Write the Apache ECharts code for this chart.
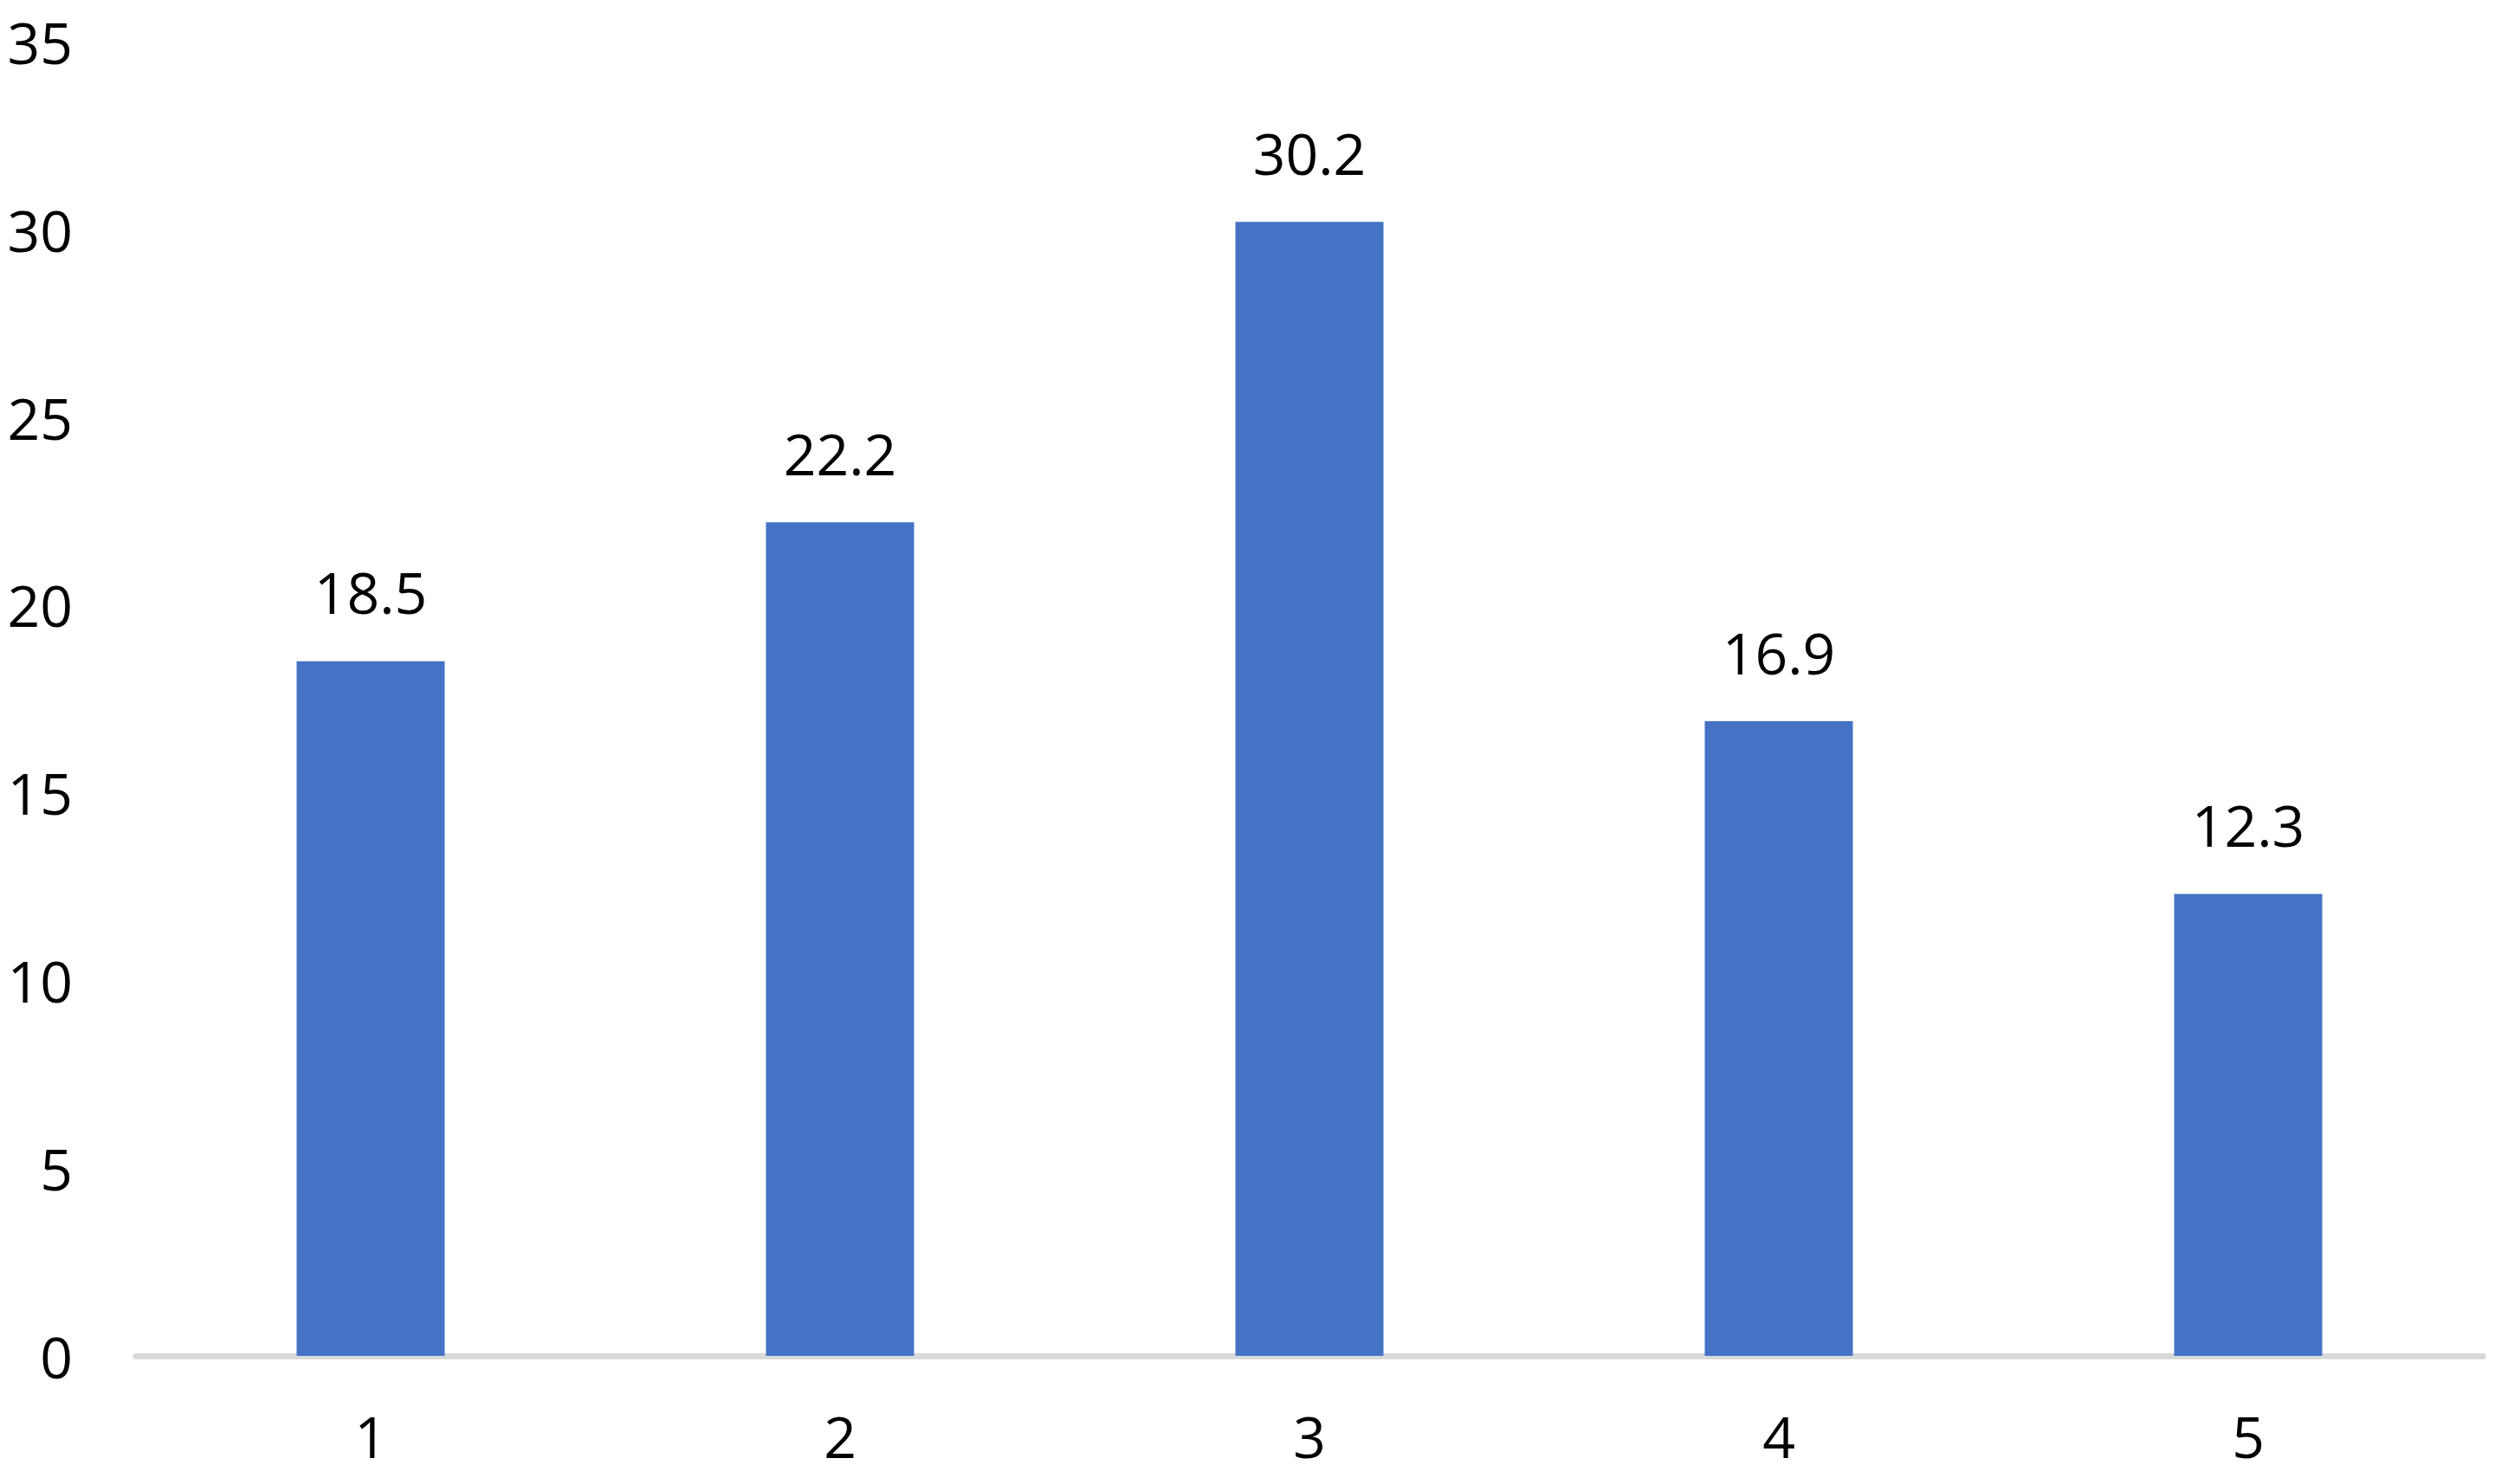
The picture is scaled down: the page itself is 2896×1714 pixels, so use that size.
<!DOCTYPE html>
<html>
<head>
<meta charset="utf-8">
<script src="https://cdn.jsdelivr.net/npm/echarts@6/dist/echarts.min.js"></script>
<style>
html,body{margin:0;padding:0;background:#fff;}
#c{width:2896px;height:1714px;}
</style>
</head>
<body>
<div id="c"></div>
<script>
const categories = ['1', '2', '3', '4', '5'];
const values = [18.5, 22.2, 30.2, 16.9, 12.3];
const yTicks = [0, 5, 10, 15, 20, 25, 30, 35];

const chart = echarts.init(document.getElementById('c'), null, {renderer: 'canvas'});
const font = 'Open Sans';
chart.setOption({
  animation: false,
  backgroundColor: '#ffffff',
  grid: {left: 157, right: 29, top: 48, bottom: 148, containLabel: false},
  xAxis: {
    type: 'category',
    data: categories,
    axisLine: {show: true, lineStyle: {color: '#D9D9D9', width: 7}},
    axisTick: {show: false},
    axisLabel: {color: '#000', fontFamily: font, fontSize: 66, margin: 66}
  },
  yAxis: {
    type: 'value',
    min: yTicks[0],
    max: yTicks[yTicks.length - 1],
    interval: 5,
    axisLine: {show: false},
    axisTick: {show: false},
    splitLine: {show: false},
    axisLabel: {
      margin: 73,
      formatter: '{a|{value}}',
      rich: {a: {color: '#000', fontFamily: font, fontSize: 66, padding: [14, 0, 0, 0]}}
    }
  },
  series: [{
    type: 'bar',
    data: values,
    barWidth: 171,
    itemStyle: {color: '#4472C4'},
    label: {
      show: true,
      position: 'top',
      distance: 40,
      color: '#000',
      fontFamily: font,
      fontSize: 66
    }
  }]
});
</script>
</body>
</html>
